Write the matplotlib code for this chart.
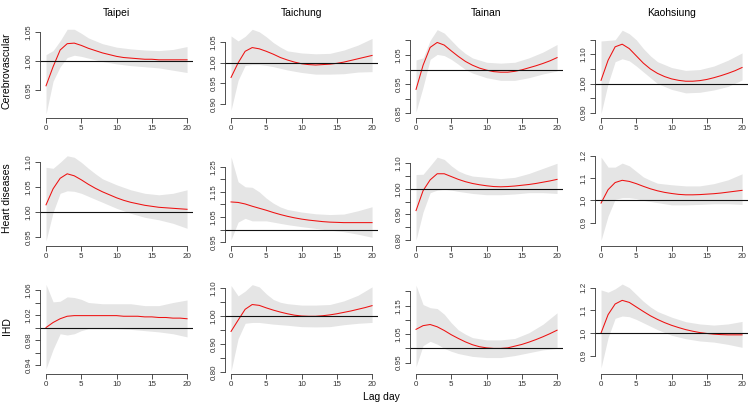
import numpy as np
import matplotlib.pyplot as plt

plt.rcParams['font.family'] = ['Liberation Sans', 'DejaVu Sans']

CITIES = ['Taipei', 'Taichung', 'Tainan', 'Kaohsiung']
OUTCOMES = ['Cerebrovascular', 'Heart diseases', 'IHD']

LAG = list(range(21))
BAND_LAG = [0, 1, 2, 3, 4, 5, 6, 7, 8, 10, 12, 14, 16, 18, 20]

# --- Cerebrovascular ---
taipei_cer_est = [0.957, 0.990, 1.019, 1.030, 1.031, 1.027, 1.022, 1.018, 1.014, 1.011, 1.008,
                  1.006, 1.005, 1.004, 1.003, 1.003, 1.002, 1.002, 1.002, 1.002, 1.002]
taipei_cer_lo = [0.908, 0.965, 0.990, 1.006, 1.010, 1.008, 1.005, 1.002, 0.999, 0.995, 0.992, 0.990, 0.988, 0.984, 0.980]
taipei_cer_hi = [1.011, 1.018, 1.035, 1.055, 1.055, 1.048, 1.040, 1.035, 1.030, 1.024, 1.021, 1.019, 1.018, 1.020, 1.025]

taichung_cer_est = [0.964, 0.999, 1.027, 1.036, 1.033, 1.027, 1.020, 1.012, 1.006, 1.001, 0.997,
                    0.995, 0.994, 0.995, 0.996, 0.998, 1.001, 1.005, 1.009, 1.013, 1.017]
taichung_cer_lo = [0.885, 0.957, 0.993, 0.995, 0.995, 0.993, 0.990, 0.986, 0.982, 0.976, 0.972, 0.972, 0.973, 0.977, 0.978]
taichung_cer_hi = [1.064, 1.052, 1.063, 1.080, 1.074, 1.062, 1.048, 1.037, 1.028, 1.023, 1.021, 1.022, 1.030, 1.042, 1.058]

tainan_cer_est = [0.932, 1.015, 1.076, 1.093, 1.084, 1.064, 1.045, 1.028, 1.015, 1.005, 0.998,
                  0.993, 0.991, 0.991, 0.994, 0.999, 1.006, 1.013, 1.021, 1.030, 1.041]
tainan_cer_lo = [0.855, 0.940, 1.035, 1.052, 1.048, 1.035, 1.018, 1.000, 0.988, 0.972, 0.963, 0.963, 0.972, 0.985, 0.995]
tainan_cer_hi = [1.033, 1.040, 1.100, 1.137, 1.125, 1.100, 1.075, 1.055, 1.040, 1.025, 1.022, 1.025, 1.040, 1.060, 1.086]

kaohsiung_cer_est = [1.011, 1.080, 1.126, 1.135, 1.120, 1.095, 1.070, 1.050, 1.035, 1.024, 1.016,
                     1.011, 1.008, 1.008, 1.010, 1.014, 1.020, 1.027, 1.035, 1.044, 1.055]
kaohsiung_cer_lo = [0.897, 1.000, 1.075, 1.085, 1.078, 1.060, 1.040, 1.020, 1.000, 0.980, 0.968, 0.970, 0.978, 0.990, 1.012]
kaohsiung_cer_hi = [1.146, 1.148, 1.150, 1.183, 1.171, 1.150, 1.120, 1.095, 1.075, 1.055, 1.045, 1.048, 1.060, 1.080, 1.105]

# --- Heart diseases ---
taipei_hrt_est = [1.015, 1.047, 1.068, 1.077, 1.073, 1.065, 1.056, 1.048, 1.041, 1.035, 1.029,
                  1.024, 1.020, 1.017, 1.014, 1.012, 1.010, 1.009, 1.008, 1.007, 1.006]
taipei_hrt_lo = [0.943, 1.000, 1.038, 1.043, 1.042, 1.038, 1.032, 1.026, 1.020, 1.008, 0.998, 0.990, 0.985, 0.978, 0.968]
taipei_hrt_hi = [1.090, 1.088, 1.100, 1.113, 1.110, 1.100, 1.088, 1.077, 1.067, 1.055, 1.045, 1.038, 1.035, 1.038, 1.045]

taichung_hrt_est = [1.110, 1.108, 1.102, 1.093, 1.085, 1.077, 1.068, 1.060, 1.053, 1.047, 1.042,
                    1.038, 1.035, 1.032, 1.030, 1.029, 1.028, 1.028, 1.028, 1.028, 1.028]
taichung_hrt_lo = [0.960, 1.030, 1.045, 1.035, 1.035, 1.035, 1.030, 1.025, 1.020, 1.012, 1.005, 0.998, 0.992, 0.982, 0.970]
taichung_hrt_hi = [1.289, 1.190, 1.170, 1.168, 1.150, 1.125, 1.105, 1.090, 1.080, 1.070, 1.063, 1.060, 1.062, 1.075, 1.091]

tainan_hrt_est = [0.915, 0.993, 1.035, 1.059, 1.059, 1.048, 1.037, 1.028, 1.021, 1.016, 1.012,
                  1.009, 1.008, 1.009, 1.011, 1.014, 1.017, 1.021, 1.026, 1.031, 1.037]
tainan_hrt_lo = [0.800, 0.910, 0.985, 0.995, 0.998, 0.995, 0.990, 0.986, 0.982, 0.977, 0.977, 0.980, 0.985, 0.985, 0.982]
tainan_hrt_hi = [1.056, 1.057, 1.090, 1.124, 1.115, 1.090, 1.070, 1.058, 1.050, 1.045, 1.040, 1.045, 1.060, 1.080, 1.100]

kaohsiung_hrt_est = [0.988, 1.048, 1.080, 1.090, 1.085, 1.075, 1.063, 1.052, 1.043, 1.036, 1.031,
                     1.027, 1.025, 1.025, 1.026, 1.028, 1.030, 1.033, 1.037, 1.041, 1.045]
kaohsiung_hrt_lo = [0.821, 0.930, 1.005, 1.012, 1.012, 1.008, 1.000, 0.995, 0.990, 0.980, 0.980, 0.982, 0.985, 0.985, 0.982]
kaohsiung_hrt_hi = [1.194, 1.149, 1.149, 1.167, 1.155, 1.130, 1.105, 1.090, 1.077, 1.070, 1.065, 1.065, 1.075, 1.092, 1.119]

# --- IHD ---
taipei_ihd_est = [1.000, 1.008, 1.014, 1.018, 1.019, 1.019, 1.019, 1.019, 1.019, 1.019, 1.019,
                  1.018, 1.018, 1.018, 1.017, 1.017, 1.016, 1.016, 1.015, 1.015, 1.014]
taipei_ihd_lo = [0.934, 0.965, 0.990, 0.988, 0.990, 0.995, 0.998, 0.998, 0.998, 0.998, 0.997, 0.995, 0.993, 0.990, 0.985]
taipei_ihd_hi = [1.069, 1.041, 1.042, 1.049, 1.048, 1.045, 1.040, 1.039, 1.038, 1.038, 1.038, 1.035, 1.035, 1.040, 1.044]

taichung_ihd_est = [0.946, 0.986, 1.025, 1.042, 1.039, 1.030, 1.022, 1.015, 1.009, 1.004, 1.001,
                    1.000, 1.000, 1.002, 1.005, 1.009, 1.014, 1.019, 1.025, 1.031, 1.038]
taichung_ihd_lo = [0.804, 0.920, 0.975, 0.978, 0.978, 0.975, 0.972, 0.970, 0.968, 0.963, 0.962, 0.963, 0.970, 0.975, 0.978]
taichung_ihd_hi = [1.110, 1.073, 1.090, 1.113, 1.105, 1.080, 1.060, 1.050, 1.045, 1.040, 1.040, 1.042, 1.055, 1.075, 1.105]

tainan_ihd_est = [1.067, 1.080, 1.084, 1.076, 1.063, 1.048, 1.035, 1.023, 1.013, 1.006, 1.002,
                  1.000, 1.000, 1.002, 1.008, 1.014, 1.022, 1.031, 1.041, 1.052, 1.064]
tainan_ihd_lo = [0.936, 1.010, 1.025, 1.015, 1.000, 0.990, 0.982, 0.977, 0.972, 0.968, 0.968, 0.975, 0.985, 0.995, 1.000]
tainan_ihd_hi = [1.222, 1.154, 1.143, 1.140, 1.120, 1.090, 1.065, 1.050, 1.038, 1.030, 1.030, 1.035, 1.055, 1.085, 1.125]

kaohsiung_ihd_est = [1.000, 1.081, 1.128, 1.144, 1.135, 1.115, 1.095, 1.076, 1.060, 1.046, 1.034,
                     1.024, 1.015, 1.008, 1.002, 0.998, 0.995, 0.993, 0.992, 0.992, 0.992]
kaohsiung_ihd_lo = [0.846, 0.980, 1.065, 1.075, 1.072, 1.060, 1.045, 1.030, 1.015, 0.990, 0.975, 0.965, 0.960, 0.950, 0.937]
kaohsiung_ihd_hi = [1.190, 1.180, 1.195, 1.216, 1.200, 1.170, 1.140, 1.115, 1.095, 1.070, 1.050, 1.040, 1.035, 1.040, 1.051]

panels = [
    [(taipei_cer_est, taipei_cer_lo, taipei_cer_hi), (taichung_cer_est, taichung_cer_lo, taichung_cer_hi),
     (tainan_cer_est, tainan_cer_lo, tainan_cer_hi), (kaohsiung_cer_est, kaohsiung_cer_lo, kaohsiung_cer_hi)],
    [(taipei_hrt_est, taipei_hrt_lo, taipei_hrt_hi), (taichung_hrt_est, taichung_hrt_lo, taichung_hrt_hi),
     (tainan_hrt_est, tainan_hrt_lo, tainan_hrt_hi), (kaohsiung_hrt_est, kaohsiung_hrt_lo, kaohsiung_hrt_hi)],
    [(taipei_ihd_est, taipei_ihd_lo, taipei_ihd_hi), (taichung_ihd_est, taichung_ihd_lo, taichung_ihd_hi),
     (tainan_ihd_est, tainan_ihd_lo, tainan_ihd_hi), (kaohsiung_ihd_est, kaohsiung_ihd_lo, kaohsiung_ihd_hi)],
]

# y axis: (first tick, last tick, step, label every n-th tick, decimals, ylim)
yaxes = [
    [(0.95, 1.05, 0.05, 1, 2, (0.902, 1.065)), (0.90, 1.05, 0.05, 1, 2, (0.8675, 1.094)),
     (0.85, 1.10, 0.05, 2, 2, (0.8356, 1.158)), (0.90, 1.15, 0.05, 2, 2, (0.8835, 1.206))],
    [(0.95, 1.10, 0.05, 1, 2, (0.9336, 1.1216)), (0.95, 1.25, 0.05, 2, 2, (0.9373, 1.310)),
     (0.80, 1.10, 0.05, 2, 2, (0.7785, 1.146)), (0.9, 1.2, 0.1, 1, 1, (0.798, 1.219))],
    [(0.94, 1.06, 0.02, 2, 2, (0.9264, 1.0768)), (0.80, 1.10, 0.05, 2, 2, (0.7957, 1.1314)),
     (0.95, 1.20, 0.05, 2, 2, (0.912, 1.242)), (0.9, 1.2, 0.1, 1, 1, (0.8215, 1.236))],
]

W, H = 751, 405
fig = plt.figure(figsize=(W / 100, H / 100), dpi=100)

row_bottom = [117.5, 245.5, 373.5]
row_h = 94
col_left = 40.4
col_step = 185
ax_w = 152.3

for i in range(3):
    for j in range(4):
        est, lo, hi = panels[i][j]
        y0, y1, step, every, dec, ylim = yaxes[i][j]
        ax = fig.add_axes([(col_left + col_step * j) / W, (H - row_bottom[i]) / H,
                           ax_w / W, row_h / H])
        ax.fill_between(BAND_LAG, lo, hi, color='#e5e5e5', linewidth=0)
        ax.plot(LAG, est, color='#ee1111', linewidth=0.75)
        ax.axhline(1.0, color='#111111', linewidth=0.8)
        ax.set_xlim(-0.8, 20.8)
        ax.set_ylim(*ylim)

        ticks = np.round(np.arange(y0, y1 + step / 2, step), 3)
        ax.set_yticks(ticks)
        ax.set_yticklabels([f'{t:.{dec}f}' if k % every == 0 else '' for k, t in enumerate(ticks)])
        ax.set_xticks([0, 5, 10, 15, 20])

        for s in ['top', 'right']:
            ax.spines[s].set_visible(False)
        ax.spines['left'].set_bounds(ticks[0], ticks[-1])
        ax.spines['bottom'].set_bounds(0, 20)
        for s in ['left', 'bottom']:
            ax.spines[s].set_linewidth(0.6)
            ax.spines[s].set_color('#333333')
        ax.tick_params(length=3.6, width=0.6, color='#333333', labelsize=5.8, labelcolor='#333333')
        ax.tick_params(axis='x', pad=1.5)
        ax.tick_params(axis='y', pad=2.0, labelrotation=90)
        for lab in ax.get_yticklabels():
            lab.set_va('center')

        if i == 0:
            fig.text((col_left + col_step * j + ax_w / 2) / W, 1 - 13 / H, CITIES[j],
                     ha='center', va='center', fontsize=7.5)
    fig.text(7 / W, 1 - (row_bottom[i] - row_h / 2) / H, OUTCOMES[i],
             rotation=90, ha='center', va='center', fontsize=7.5)

fig.text(381 / W, 1 - 397 / H, 'Lag day', ha='center', va='center', fontsize=7.5)

fig.savefig('out.png', dpi=100)
